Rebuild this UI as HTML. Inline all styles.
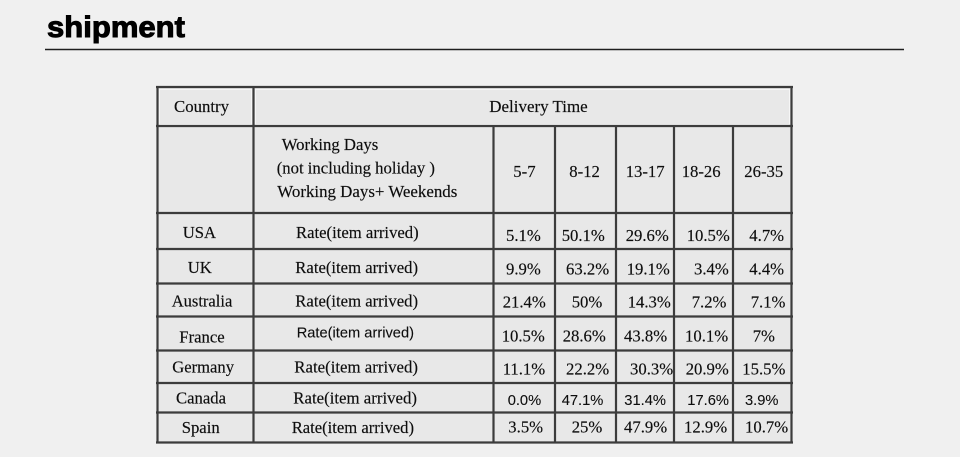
<!DOCTYPE html>
<html>
<head>
<meta charset="utf-8">
<style>
  html,body{margin:0;padding:0;background:#f0f0f0;}
  body{width:960px;height:457px;overflow:hidden;}
  svg{display:block;}
  .s{font-family:"Liberation Serif",serif;font-size:16.7px;fill:#0d0d0d;stroke:#0d0d0d;stroke-width:0.15px;}
  .a{font-family:"Liberation Sans",sans-serif;font-size:14.7px;fill:#0d0d0d;stroke:#0d0d0d;stroke-width:0.1px;}
</style>
</head>
<body>
<svg width="960" height="457" viewBox="0 0 960 457" xmlns="http://www.w3.org/2000/svg">
  <rect x="0" y="0" width="960" height="457" fill="#f0f0f0"/>
  <!-- title -->
  <text x="47" y="37" font-family="Liberation Sans, sans-serif" font-weight="bold" font-size="30" fill="#000" stroke="#000" stroke-width="1" textLength="138" lengthAdjust="spacingAndGlyphs">shipment</text>
  <line x1="45" y1="49.5" x2="904" y2="49.5" stroke="#1e1e1e" stroke-width="1.4"/>

  <!-- table background -->
  <rect x="157" y="87" width="635" height="356" fill="#e8e8e8"/>
  <g stroke="#f6f6f6" stroke-width="1" fill="none">
    <rect x="159.5" y="89.5" width="92" height="35"/>
    <rect x="255.5" y="89.5" width="534" height="35"/>
  </g>

  <!-- horizontal lines -->
  <g stroke="#3c3c3c" stroke-width="2.2">
    <line x1="156" y1="87" x2="793" y2="87"/>
    <line x1="156" y1="126" x2="793" y2="126"/>
    <line x1="156" y1="213" x2="793" y2="213"/>
    <line x1="156" y1="249" x2="793" y2="249"/>
    <line x1="156" y1="283.5" x2="793" y2="283.5"/>
    <line x1="156" y1="316.5" x2="793" y2="316.5"/>
    <line x1="156" y1="350.5" x2="793" y2="350.5"/>
    <line x1="156" y1="383" x2="793" y2="383"/>
    <line x1="156" y1="412.5" x2="793" y2="412.5"/>
    <line x1="156" y1="442.5" x2="793" y2="442.5"/>
  </g>
  <!-- vertical lines -->
  <g stroke="#3c3c3c" stroke-width="2.2">
    <line x1="157.5" y1="86" x2="157.5" y2="443.5"/>
    <line x1="253.5" y1="86" x2="253.5" y2="443.5"/>
    <line x1="791.5" y1="86" x2="791.5" y2="443.5"/>
    <line x1="493.5" y1="126" x2="493.5" y2="443.5"/>
    <line x1="555" y1="126" x2="555" y2="443.5"/>
    <line x1="616" y1="126" x2="616" y2="443.5"/>
    <line x1="674" y1="126" x2="674" y2="443.5"/>
    <line x1="733" y1="126" x2="733" y2="443.5"/>
  </g>

  <!-- header texts -->
  <text class="s" x="174" y="112" textLength="55" lengthAdjust="spacingAndGlyphs">Country</text>
  <text class="s" x="489.3" y="112" textLength="98.4" lengthAdjust="spacingAndGlyphs">Delivery Time</text>
  <text class="s" x="281.7" y="150" textLength="96.6" lengthAdjust="spacingAndGlyphs">Working Days</text>
  <text class="s" x="276.7" y="173.5" textLength="158.3" lengthAdjust="spacingAndGlyphs">(not including holiday )</text>
  <text class="s" x="277.3" y="197" textLength="180" lengthAdjust="spacingAndGlyphs">Working Days+ Weekends</text>
  <text class="s" x="513.3" y="177">5-7</text>
  <text class="s" x="569.3" y="177">8-12</text>
  <text class="s" x="625.7" y="177">13-17</text>
  <text class="s" x="681.7" y="177">18-26</text>
  <text class="s" x="744.3" y="177">26-35</text>

  <!-- USA -->
  <text class="s" x="182.7" y="238">USA</text>
  <text class="s" x="296" y="238" textLength="122.7" lengthAdjust="spacingAndGlyphs">Rate(item arrived)</text>
  <text class="s" x="506" y="241">5.1%</text>
  <text class="s" x="561.7" y="241">50.1%</text>
  <text class="s" x="625.7" y="241">29.6%</text>
  <text class="s" x="686.7" y="241">10.5%</text>
  <text class="s" x="749.3" y="241">4.7%</text>

  <!-- UK -->
  <text class="s" x="187.7" y="273">UK</text>
  <text class="s" x="295.3" y="273" textLength="122.7" lengthAdjust="spacingAndGlyphs">Rate(item arrived)</text>
  <text class="s" x="506" y="274.3">9.9%</text>
  <text class="s" x="566" y="274.3">63.2%</text>
  <text class="s" x="626.7" y="274.3">19.1%</text>
  <text class="s" x="694" y="274.3">3.4%</text>
  <text class="s" x="749.3" y="274.3">4.4%</text>

  <!-- Australia -->
  <text class="s" x="171.7" y="306.7" textLength="60.6" lengthAdjust="spacingAndGlyphs">Australia</text>
  <text class="s" x="295.3" y="306.7" textLength="122.7" lengthAdjust="spacingAndGlyphs">Rate(item arrived)</text>
  <text class="s" x="502.7" y="307.3">21.4%</text>
  <text class="s" x="571.7" y="307.3">50%</text>
  <text class="s" x="627.7" y="307.3">14.3%</text>
  <text class="s" x="691.7" y="307.3">7.2%</text>
  <text class="s" x="750.7" y="307.3">7.1%</text>

  <!-- France -->
  <text class="s" x="179.3" y="342.5">France</text>
  <text class="a" x="296.7" y="337.5" textLength="117.3" lengthAdjust="spacingAndGlyphs">Rate(item arrived)</text>
  <text class="s" x="501.7" y="341.7">10.5%</text>
  <text class="s" x="562.7" y="341.7">28.6%</text>
  <text class="s" x="624" y="341.7">43.8%</text>
  <text class="s" x="685" y="341.7">10.1%</text>
  <text class="s" x="752.7" y="341.7">7%</text>

  <!-- Germany -->
  <text class="s" x="172.3" y="372.7" textLength="61.7" lengthAdjust="spacingAndGlyphs">Germany</text>
  <text class="s" x="294.3" y="372.7" textLength="123.7" lengthAdjust="spacingAndGlyphs">Rate(item arrived)</text>
  <text class="s" x="502.7" y="374.3">11.1%</text>
  <text class="s" x="566" y="374.3">22.2%</text>
  <text class="s" x="630" y="374.3">30.3%</text>
  <text class="s" x="685.7" y="374.3">20.9%</text>
  <text class="s" x="742.3" y="374.3">15.5%</text>

  <!-- Canada -->
  <text class="s" x="176" y="403.3">Canada</text>
  <text class="s" x="293.3" y="403.3" textLength="123.7" lengthAdjust="spacingAndGlyphs">Rate(item arrived)</text>
  <text class="a" x="507.7" y="405">0.0%</text>
  <text class="a" x="561.7" y="405">47.1%</text>
  <text class="a" x="624.3" y="405">31.4%</text>
  <text class="a" x="687.3" y="405">17.6%</text>
  <text class="a" x="745" y="405">3.9%</text>

  <!-- Spain -->
  <text class="s" x="181.7" y="433">Spain</text>
  <text class="s" x="291.7" y="433" textLength="122.3" lengthAdjust="spacingAndGlyphs">Rate(item arrived)</text>
  <text class="s" x="508.3" y="432.5">3.5%</text>
  <text class="s" x="571.7" y="432.5">25%</text>
  <text class="s" x="624" y="432.5">47.9%</text>
  <text class="s" x="684" y="432.5">12.9%</text>
  <text class="s" x="745" y="432.5">10.7%</text>
</svg>
</body>
</html>
